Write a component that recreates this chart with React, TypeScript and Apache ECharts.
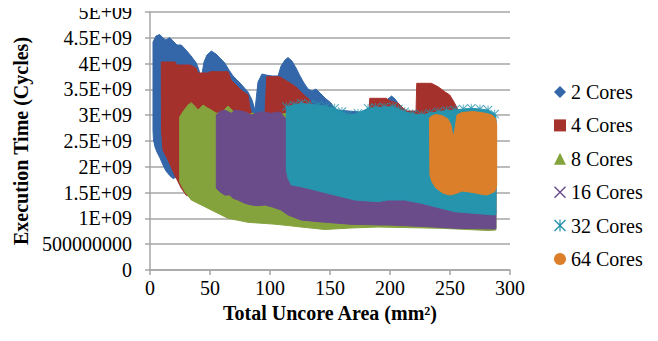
import React, { useEffect, useRef } from "react";
import * as echarts from "echarts";

// x: Total Uncore Area (mm²); y: Execution Time in units of 1E+09 cycles.
// Each list traces the outline of the dense cloud of markers of one series.
const cores2Outline: [number, number][] = [
  [2.5, 4.419], [5, 4.535], [8.1, 4.564], [10.8, 4.496], [13.3, 4.457], [16.4, 4.506], [20, 4.419],
  [22.5, 4.36], [26.1, 4.36], [30, 4.264], [34.2, 4.147], [38.6, 4.012], [40.8, 3.876], [42.5, 3.682],
  [45, 4.031], [47.5, 4.167], [51.1, 4.244], [55, 4.186], [58.3, 4.109], [62.3, 4.012], [65.8, 3.876],
  [69.2, 3.76], [75, 3.624], [81.7, 3.45], [85, 3.295], [87.5, 3.101], [90, 3.643], [93.3, 3.798],
  [96.7, 3.779], [101.7, 3.76], [106.7, 3.76], [109.2, 3.953], [112.5, 4.07], [115, 4.118], [118.3, 4.05],
  [121.7, 3.915], [125, 3.76], [128.3, 3.624], [131.7, 3.508], [135, 3.469], [138.3, 3.508], [141.7, 3.43],
  [145.8, 3.333], [150.8, 3.236], [155, 3.101], [175, 3.062], [195, 3.217], [198.3, 3.314], [201.3, 3.372],
  [204.2, 3.314], [206.7, 3.236], [210, 3.062],
  [210, 2.326], [125, 2.326], [41.7, 2.035], [25, 1.822], [19.2, 1.773], [16.4, 1.831], [13.3, 1.919],
  [10.8, 2.035], [8.3, 2.171], [5.8, 2.287], [4.2, 2.384], [2.9, 2.519], [2.5, 2.713],
];

const cores4Outline: [number, number][] = [
  [9.4, 4.031], [20.8, 4.031], [22.5, 3.973], [33.3, 3.973], [38.3, 3.915], [40, 3.818], [49.2, 3.818],
  [49.8, 3.843], [65, 3.843], [67.5, 3.682], [71.7, 3.585], [75.8, 3.488], [81.7, 3.391], [83.3, 3.14],
  [85, 3.023], [95.8, 3.004], [97.3, 3.746], [108.1, 3.746], [112.5, 3.682], [116.7, 3.624], [121.7, 3.547],
  [125.8, 3.45], [129.2, 3.372], [133.3, 3.295], [135.8, 3.14], [158.3, 3.004], [182.5, 3.004],
  [183.1, 3.327], [196.9, 3.327], [200, 3.275], [206.7, 3.236], [210.8, 3.14], [214.2, 3.081], [221.7, 3.081],
  [222.3, 3.618], [234.4, 3.618], [240, 3.552], [245.6, 3.455], [249.8, 3.391], [253.9, 3.231],
  [256.7, 3.101], [260, 3.043],
  [260, 1.938], [125, 1.938], [58.3, 1.938], [37.5, 1.647], [33.3, 1.434], [30.3, 1.444], [26.1, 1.583],
  [20.6, 1.841], [15, 2.132], [10.8, 2.326], [9.6, 2.713],
];

const cores8Outline: [number, number][] = [
  [24.75, 2.965], [27.5, 3.068], [31.7, 3.198], [34.4, 3.242], [37.25, 3.178], [40, 3.101], [44.2, 3.198],
  [46.9, 3.153], [51.1, 3.101], [55.25, 3.037], [60, 3.062], [65, 3.178], [70, 3.062], [79.2, 2.984],
  [85.8, 3.043], [91.7, 2.946], [115, 3.043], [118.3, 2.81], [288.3, 2.81],
  [288.3, 0.775], [281.7, 0.766], [242.5, 0.808], [190, 0.833], [167.5, 0.814], [145.6, 0.785],
  [125.8, 0.833], [115, 0.862], [102.5, 0.891], [81.7, 0.924], [65, 1.002], [53.9, 1.13], [42.75, 1.26],
  [34.4, 1.357], [29.2, 1.512], [24.75, 1.705],
];

const cores16Outline: [number, number][] = [
  [55.25, 3.004], [58.1, 3.068], [62.25, 3.101], [67.75, 3.037], [70.6, 3.101], [78.9, 3.068],
  [84.4, 3.004], [92.75, 3.068], [101.1, 3.037], [108.3, 3.062], [114.2, 2.907], [288.3, 2.907],
  [288.3, 0.804], [287.25, 0.795], [253.9, 0.808], [231.7, 0.839], [198.3, 0.872], [192.5, 0.872],
  [167.5, 0.886], [140, 0.936], [125.8, 0.969], [115, 1.066], [109.2, 1.163], [101.1, 1.227], [95.6, 1.26],
  [90, 1.246], [84.4, 1.26], [78.9, 1.293], [73.3, 1.357], [69.2, 1.39], [66.4, 1.453], [62.25, 1.453],
  [58.1, 1.517], [55.25, 1.583],
];

const cores32Top: [number, number][] = [
  [113.6, 3.165], [120, 3.2], [126.1, 3.231], [133, 3.21], [140, 3.198], [147, 3.17], [153.9, 3.134],
  [160, 3.07], [165, 3.004], [173.3, 3.037], [181.7, 3.134], [188, 3.15], [195, 3.16], [202.5, 3.165],
  [207, 3.12], [212.25, 3.068], [219, 3.03], [226.1, 3.004], [233, 3.04], [240, 3.068], [247, 3.09],
  [253.9, 3.101], [261, 3.12], [267.75, 3.134], [275, 3.12], [281.7, 3.101], [287.25, 3.023],
];
const cores32Bottom: [number, number][] = [
  [288.3, 2.946], [288.3, 1.085], [287.25, 1.066], [253.9, 1.13], [226.1, 1.293], [212.25, 1.357],
  [198.3, 1.357], [190, 1.324], [170.6, 1.357], [153.9, 1.453], [137.25, 1.55], [126.1, 1.614],
  [117.75, 1.647], [115, 1.777], [113.6, 1.938],
];

const cores64Outline: [number, number][] = [
  [232.9, 2.946], [234.75, 2.984], [238.3, 3.014], [243.3, 2.994], [248.3, 2.926], [250.8, 2.81],
  [252.1, 2.655], [253.3, 2.616], [254.6, 2.81], [255.8, 3.004], [260, 3.052], [269.4, 3.072],
  [278.3, 3.043], [285, 3.004], [287.9, 2.936], [288.9, 2.81],
  [288.9, 1.647], [288.3, 1.583], [287.25, 1.517], [280.6, 1.453], [275, 1.473], [272.25, 1.486],
  [265, 1.517], [260, 1.531], [255.6, 1.486], [250, 1.453], [244.4, 1.486], [238.3, 1.589], [235, 1.705],
  [233.3, 1.841], [232.9, 2.81],
];

const seriesNames = ["2 Cores", "4 Cores", "8 Cores", "16 Cores", "32 Cores", "64 Cores"];
const seriesOutlines = [
  cores2Outline,
  cores4Outline,
  cores8Outline,
  cores16Outline,
  [...cores32Top, ...cores32Bottom],
  cores64Outline,
];
const seriesColors = ["#3467A9", "#A5312D", "#85A33C", "#6A4C8A", "#2794AE", "#DB7F2B"];

const crossIcon = "path://M1,0L6,5L11,0L12,1L7,6L12,11L11,12L6,7L1,12L0,11L5,6L0,1Z";
const starIcon =
  "path://M1,0L6,5L11,0L12,1L7,6L12,11L11,12L6,7L1,12L0,11L5,6L0,1ZM5.4,0L6.6,0L6.6,12L5.4,12Z";
const legendIcons = ["diamond", "rect", "triangle", crossIcon, starIcon, "circle"];

const xTicks = { min: 0, max: 300, interval: 50 };
const yTicks = { min: 0, max: 5e9, interval: 5e8 };

const FONT = "Liberation Serif";

export default function App() {
  const ref = useRef<HTMLDivElement>(null);

  useEffect(() => {
    if (!ref.current) return;
    const chart = echarts.init(ref.current, undefined, { renderer: "svg" });

    const series: any[] = seriesOutlines.map((outline, i) => {
      const data = outline.map(([x, y]) => [x, y * 1e9]);
      return {
        type: "custom",
        name: seriesNames[i],
        itemStyle: { color: seriesColors[i] },
        encode: { x: 0, y: 1 },
        data,
        z: 2 + i * 2,
        renderItem: (params: any, api: any) => {
          if (params.dataIndex !== 0) return null;
          const pts = data.map((d) => api.coord(d));
          return {
            type: "polygon",
            shape: { points: pts },
            style: { fill: seriesColors[i], stroke: seriesColors[i], lineWidth: 1 },
          };
        },
      };
    });
    series.splice(5, 0, {
      type: "scatter",
      name: "32 Cores",
      symbol: starIcon,
      symbolSize: 9,
      z: 11,
      itemStyle: { color: seriesColors[4] },
      data: cores32Top.map(([x, y]) => [x, y * 1e9]),
    });

    chart.setOption({
      animation: false,
      textStyle: { fontFamily: FONT },
      grid: { left: 150, right: 148, top: 12, bottom: 71, containLabel: false },
      legend: {
        orient: "vertical",
        left: 549,
        top: 77,
        itemWidth: 12,
        itemHeight: 12,
        itemGap: 13.4,
        textStyle: { fontFamily: FONT, fontSize: 20, color: "#000", lineHeight: 20 },
        data: seriesNames.map((n, i) => ({ name: n, icon: legendIcons[i] })),
      },
      xAxis: {
        type: "value",
        ...xTicks,
        name: "Total Uncore Area (mm²)",
        nameLocation: "middle",
        nameGap: 25,
        nameTextStyle: { fontFamily: FONT, fontSize: 20, fontWeight: "bold", color: "#000" },
        axisLine: { show: true, lineStyle: { color: "#a6a6a6", width: 1.5 } },
        axisTick: { show: true, length: 5, lineStyle: { color: "#a6a6a6", width: 1.5 } },
        axisLabel: { fontFamily: FONT, fontSize: 20, color: "#000", margin: 8 },
        splitLine: { show: false },
      },
      yAxis: {
        type: "value",
        ...yTicks,
        name: "Execution Time (Cycles)",
        nameLocation: "middle",
        nameGap: 112,
        nameTextStyle: { fontFamily: FONT, fontSize: 20, fontWeight: "bold", color: "#000" },
        axisLine: { show: true, lineStyle: { color: "#a6a6a6", width: 1.5 } },
        axisTick: { show: true, length: 5, lineStyle: { color: "#a6a6a6", width: 1.5 } },
        axisLabel: {
          fontFamily: FONT,
          fontSize: 20,
          color: "#000",
          margin: 18,
          formatter: (v: number) => (v === 0 ? "0" : v < 1e9 ? v.toFixed(0) : `${v / 1e9}E+09`),
        },
        splitLine: { show: true, lineStyle: { color: "#a6a6a6", width: 1.5 } },
      },
      series,
    });

    return () => chart.dispose();
  }, []);

  return <div ref={ref} style={{ width: 658, height: 341, margin: -8 }} />;
}
